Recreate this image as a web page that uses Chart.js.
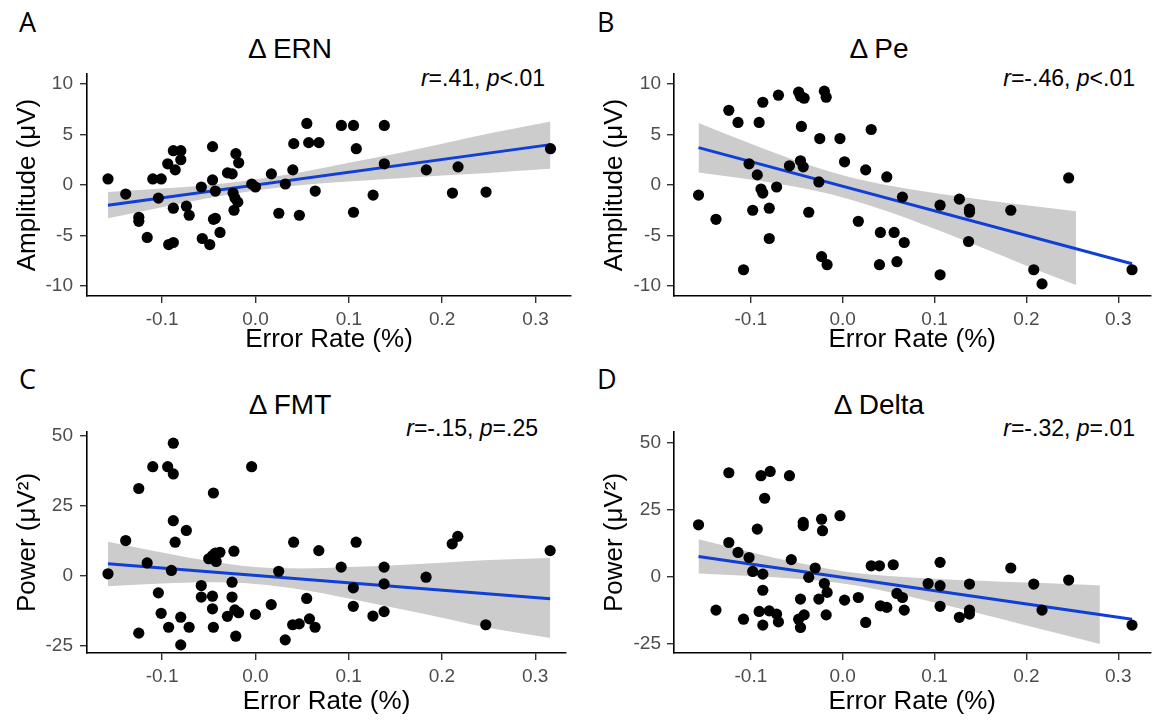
<!DOCTYPE html>
<html>
<head>
<meta charset="utf-8">
<script src="https://cdn.jsdelivr.net/npm/chart.js@4.4.1/dist/chart.umd.min.js"></script>
<style>
  body { margin: 0; background: #fff; width: 1156px; height: 720px; position: relative; overflow: hidden;
         font-family: "Liberation Sans", Arial, sans-serif; }
  canvas { position: absolute; }
  .txt { position: absolute; white-space: nowrap; color: #000; line-height: 1; }
  .letter { font-family: "Open Sans", sans-serif; font-size: 27px; }
  .title { font-size: 28px; width: 400px; text-align: center; }
  .note { font-size: 23px; text-align: right; width: 300px; }
</style>
</head>
<body>

<div class="txt letter" style="left:19px;top:8px">A</div>
<div class="txt letter" style="left:597px;top:8px">B</div>
<div class="txt letter" style="left:19px;top:365px">C</div>
<div class="txt letter" style="left:597px;top:365px">D</div>

<div class="txt title" style="left:90px;top:35px">Δ ERN</div>
<div class="txt title" style="left:679px;top:35px">Δ Pe</div>
<div class="txt title" style="left:90px;top:391px">Δ FMT</div>
<div class="txt title" style="left:679px;top:391px">Δ Delta</div>

<div class="txt note" style="left:245px;top:67px"><i>r</i>=.41, <i>p</i>&lt;.01</div>
<div class="txt note" style="left:835px;top:67px"><i>r</i>=-.46, <i>p</i>&lt;.01</div>
<div class="txt note" style="left:238px;top:417px"><i>r</i>=-.15, <i>p</i>=.25</div>
<div class="txt note" style="left:835px;top:417px"><i>r</i>=-.32, <i>p</i>=.01</div>

<canvas id="ern" width="578" height="300" style="left:0px;top:64px"></canvas>
<canvas id="pe" width="578" height="300" style="left:578px;top:64px"></canvas>
<canvas id="fmt" width="578" height="298" style="left:0px;top:422px"></canvas>
<canvas id="delta" width="578" height="298" style="left:578px;top:422px"></canvas>

<script>
// === DATA ===
const xTicks = [-0.1, 0.0, 0.1, 0.2, 0.3];
const ampTicks = [-10, -5, 0, 5, 10];
const powTicks = [-25, 0, 25, 50];

// A: delta ERN
const ernX = [-0.158,-0.139,-0.125,-0.125,-0.116,-0.110,-0.101,-0.104,-0.094,-0.088,-0.086,-0.080,-0.080,-0.088,-0.093,
  -0.088,-0.074,-0.071,-0.058,-0.057,-0.049,-0.046,-0.046,-0.043,-0.045,-0.043,-0.038,-0.030,-0.025,-0.021,
  -0.018,-0.024,-0.022,-0.019,-0.023,-0.004,0.000,0.017,0.025,0.032,0.040,0.041,0.047,0.055,0.057,
  0.068,0.064,0.092,0.105,0.108,0.105,0.126,0.138,0.138,0.183,0.211,0.217,0.247,0.316];
const ernY = [0.6,-0.9,-3.2,-3.6,-5.2,0.6,0.6,-1.3,2.1,3.4,1.5,3.4,2.5,-2.3,-5.9,
  -5.7,-2.1,-3.0,-0.2,-5.3,-5.9,3.8,0.5,-0.6,-3.4,-3.3,-4.7,1.2,1.1,3.1,
  2.2,-0.8,-1.3,-1.7,-2.5,0.1,-0.2,1.1,-2.8,0.1,1.5,4.1,-3.0,6.1,4.2,
  4.2,-0.6,5.9,5.9,3.6,-2.7,-1.0,5.9,2.1,1.5,-0.8,1.8,-0.7,3.6];
const ernFitX = [-0.158, 0.316];
const ernFitY = [-2.0, 4.0];
const ernBandX = [-0.158,-0.1,-0.05,0,0.05,0.1,0.15,0.2,0.25,0.316];
const ernBandLo = [-3.3,-2.2,-1.3,-0.55,0.0,0.35,0.65,0.95,1.2,1.6];
const ernBandHi = [-0.7,-0.35,0.0,0.55,1.3,2.2,3.1,4.1,5.1,6.3];

// B: delta Pe
const peX = [-0.157,-0.138,-0.124,-0.114,-0.108,-0.102,-0.098,-0.093,-0.091,-0.089,-0.087,-0.087,-0.080,-0.080,-0.072,
  -0.070,-0.058,-0.048,-0.046,-0.042,-0.045,-0.046,-0.043,-0.037,-0.026,-0.025,-0.020,-0.018,-0.023,-0.017,
  -0.003,0.002,0.017,0.025,0.031,0.040,0.041,0.048,0.056,0.059,0.065,0.067,0.106,0.106,0.127,
  0.138,0.138,0.137,0.183,0.208,0.217,0.246,0.315];
const peY = [-1.0,-3.4,7.4,6.2,-8.4,2.1,-2.5,1.0,6.2,-0.4,-0.8,8.2,-2.3,-5.3,-0.2,
  8.9,1.9,9.2,8.8,8.6,5.8,2.4,1.8,-2.7,0.3,4.6,9.3,8.7,-7.1,-7.9,
  4.6,2.3,-3.6,1.5,5.5,-7.9,-4.7,0.8,-4.7,-7.6,-1.2,-5.7,-8.9,-2.0,-1.4,
  -2.4,-2.7,-5.6,-2.5,-8.4,-9.8,0.7,-8.4];
const peFitX = [-0.157, 0.315];
const peFitY = [3.7, -7.8];
const peBandX = [-0.157,-0.1,-0.05,0,0.05,0.1,0.15,0.2,0.254];
const peBandLo = [1.25,0.54,-0.21,-1.23,-2.65,-4.34,-6.15,-8.0,-9.9];
const peBandHi = [6.15,4.08,2.39,0.97,-0.05,-0.8,-1.43,-2.0,-2.6];

// C: delta FMT
const fmtX = [-0.158,-0.139,-0.125,-0.125,-0.116,-0.110,-0.104,-0.101,-0.094,-0.093,-0.088,-0.088,-0.088,-0.086,-0.090,
  -0.080,-0.080,-0.074,-0.071,-0.058,-0.058,-0.050,-0.046,-0.043,-0.038,-0.042,-0.045,-0.046,-0.046,-0.045,
  -0.030,-0.025,-0.025,-0.023,-0.022,-0.018,-0.021,-0.004,0.000,0.017,0.025,0.032,0.040,0.041,0.047,
  0.055,0.058,0.064,0.068,0.092,0.105,0.105,0.108,0.126,0.138,0.138,0.138,0.183,0.211,0.217,0.247,0.316];
const fmtY = [0.6,12.5,31.1,-20.6,4.5,38.9,-6.2,-13.5,38.9,-18.5,47.3,36.3,19.6,11.9,1.8,
  -14.9,-24.8,16.1,-18.5,-3.6,-7.7,6.0,7.1,8.0,8.3,5.0,29.5,-7.4,-11.9,-18.5,
  -14.6,-2.4,-7.7,8.7,-12.3,-13.3,-21.7,38.9,-13.9,-10.4,1.5,-23.0,-17.6,11.9,-17.3,
  -8.2,-15.5,-18.5,8.9,3.0,-4.4,-11.0,11.9,-14.5,3.0,-3.0,-12.9,-0.6,11.3,14.0,-17.6,8.9];
const fmtFitX = [-0.158, 0.316];
const fmtFitY = [4.2, -8.3];
const fmtBandX = [-0.158,-0.1,-0.05,0,0.05,0.1,0.15,0.2,0.25,0.316];
const fmtBandLo = [-3.8,-2.9,-2.45,-3.0,-5.1,-8.2,-11.6,-15.1,-18.7,-22.3];
const fmtBandHi = [12.1,8.2,5.15,3.0,2.5,3.0,3.7,4.6,5.5,6.3];

// D: delta Delta
const deltaX = [-0.157,-0.138,-0.124,-0.124,-0.114,-0.108,-0.102,-0.098,-0.093,-0.091,-0.087,-0.087,-0.087,-0.089,-0.085,
  -0.079,-0.080,-0.072,-0.070,-0.058,-0.056,-0.048,-0.046,-0.046,-0.043,-0.043,-0.042,-0.037,-0.030,-0.026,
  -0.023,-0.022,-0.020,-0.017,-0.018,-0.003,0.002,0.017,0.025,0.031,0.040,0.041,0.048,0.055,0.059,
  0.065,0.067,0.093,0.106,0.106,0.106,0.127,0.138,0.138,0.138,0.183,0.208,0.217,0.246,0.315];
const deltaY = [19.5,-12.3,38.9,12.9,9.2,-15.7,7.3,2.1,17.9,-12.8,1.1,-4.9,-17.9,37.8,29.4,
  39.4,-12.6,-13.8,-16.7,37.8,6.5,-15.7,-8.2,-18.8,20.4,19.2,-14.1,-0.1,3.4,-8.2,
  21.6,17.3,-2.4,-5.7,-14.1,22.9,-8.6,-7.6,-16.9,4.2,4.2,-10.7,-11.3,4.6,-6.1,
  -7.6,-12.3,-2.4,-3.2,5.5,-10.9,-15.0,-2.6,-12.3,-13.8,3.4,-2.6,-12.3,-1.1,-17.9];
const deltaFitX = [-0.157, 0.315];
const deltaFitY = [7.7, -15.7];
const deltaBandX = [-0.157,-0.1,-0.05,0,0.05,0.1,0.15,0.2,0.25,0.28];
const deltaBandLo = [1.3,0.4,-0.6,-2.4,-5.55,-9.5,-13.7,-18.0,-22.3,-24.9];
const deltaBandHi = [14.1,9.3,5.4,2.2,0.4,-0.6,-1.4,-2.05,-2.7,-3.1];

// === helpers ===
const zip = (xs, ys) => xs.map((x, i) => ({ x, y: ys[i] }));
const tickFont = { family: "Liberation Sans", size: 19 };
const titleFont = { family: "Liberation Sans", size: 26 };

function makePanel(id, p) {
  const ctx = document.getElementById(id).getContext("2d");
  return new Chart(ctx, {
    type: "scatter",
    data: {
      datasets: [
        { data: zip(p.x, p.y), backgroundColor: "#000", borderWidth: 0, pointRadius: 5.6 },
        { type: "line", data: zip(p.fitX, p.fitY), borderColor: "#0f3fd6", borderWidth: 3,
          pointRadius: 0, fill: false },
        { type: "line", data: zip(p.bandX, p.bandHi), borderWidth: 0, pointRadius: 0,
          backgroundColor: "#cccccc", fill: "+1", tension: 0.4, cubicInterpolationMode: "monotone" },
        { type: "line", data: zip(p.bandX, p.bandLo), borderWidth: 0, pointRadius: 0,
          fill: false, tension: 0.4, cubicInterpolationMode: "monotone" }
      ]
    },
    options: {
      responsive: false,
      animation: false,
      devicePixelRatio: 1,
      layout: { padding: { top: 10, right: p.padRight, left: 0, bottom: 0 } },
      plugins: { legend: { display: false }, tooltip: { enabled: false } },
      scales: {
        x: {
          type: "linear", min: p.xMin, max: p.xMax,
          afterBuildTicks: s => { s.ticks = xTicks.map(v => ({ value: v })); },
          afterFit: s => { s.height = p.xH; s.paddingLeft = 0; s.paddingRight = 0; },
          ticks: { font: tickFont, color: "#4d4d4d", padding: 5, maxRotation: 0,
                   callback: v => v.toFixed(1) },
          grid: { drawOnChartArea: false, drawTicks: true, tickLength: 7, color: "#333", lineWidth: 1.4 },
          border: { display: true, color: "#000", width: 1.6 },
          title: { display: true, text: "Error Rate (%)", font: titleFont, color: "#000",
                   padding: { top: 0, bottom: p.xTitlePad } }
        },
        y: {
          type: "linear", min: p.yMin, max: p.yMax,
          afterBuildTicks: s => { s.ticks = p.yTicks.map(v => ({ value: v })); },
          afterFit: s => { s.width = p.yW; s.paddingTop = 0; s.paddingBottom = 0; },
          ticks: { font: tickFont, color: "#4d4d4d", padding: p.yTickPad, callback: v => String(v) },
          grid: { drawOnChartArea: false, drawTicks: true, tickLength: 7, color: "#333", lineWidth: 1.4 },
          border: { display: true, color: "#000", width: 1.6 },
          title: { display: true, text: p.yTitle, font: titleFont, color: "#000",
                   padding: { top: p.yTitlePad, bottom: 0 } }
        }
      }
    }
  });
}

document.addEventListener("DOMContentLoaded", () => {
  makePanel("ern", { x: ernX, y: ernY, fitX: ernFitX, fitY: ernFitY,
    bandX: ernBandX, bandLo: ernBandLo, bandHi: ernBandHi,
    xMin: -0.1805, xMax: 0.338, yMin: -11, yMax: 11, yTicks: ampTicks, yTitle: "Amplitude (μV)",
    yW: 87, xH: 68, padRight: 7, yTickPad: 7, yTitlePad: 12, xTitlePad: 9 });
  makePanel("pe", { x: peX, y: peY, fitX: peFitX, fitY: peFitY,
    bandX: peBandX, bandLo: peBandLo, bandHi: peBandHi,
    xMin: -0.1837, xMax: 0.335, yMin: -11, yMax: 11, yTicks: ampTicks, yTitle: "Amplitude (μV)",
    yW: 96, xH: 68, padRight: 0, yTickPad: 6, yTitlePad: 21, xTitlePad: 9 });
  makePanel("fmt", { x: fmtX, y: fmtY, fitX: fmtFitX, fitY: fmtFitY,
    bandX: fmtBandX, bandLo: fmtBandLo, bandHi: fmtBandHi,
    xMin: -0.1805, xMax: 0.333, yMin: -27.7, yMax: 51.3, yTicks: powTicks, yTitle: "Power (μV²)",
    yW: 87, xH: 67, padRight: 12, yTickPad: 7, yTitlePad: 12, xTitlePad: 3 });
  makePanel("delta", { x: deltaX, y: deltaY, fitX: deltaFitX, fitY: deltaFitY,
    bandX: deltaBandX, bandLo: deltaBandLo, bandHi: deltaBandHi,
    xMin: -0.1837, xMax: 0.335, yMin: -28.3, yMax: 54.1, yTicks: powTicks, yTitle: "Power (μV²)",
    yW: 96, xH: 67, padRight: 0, yTickPad: 6, yTitlePad: 21, xTitlePad: 3 });
});
</script>
</body>
</html>
